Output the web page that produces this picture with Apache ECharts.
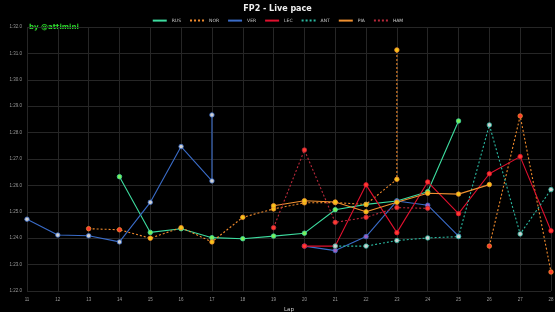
<!DOCTYPE html>
<html>
<head>
<meta charset="utf-8">
<script src="https://cdn.jsdelivr.net/npm/echarts@6/dist/echarts.min.js"></script>
<style>
  html, body { margin: 0; padding: 0; background: #000; }
  #main { width: 555px; height: 312px; }
</style>
</head>
<body>
<div id="main"></div>
<script>
// lap times in seconds (1:24.0 = 84.0), null = break in the line
var rusLaps  = [14, 15, 16, 17, 18, 19, 20, 21, 22, 23, 24, 25];
var rusTimes = [86.33, 84.22, 84.36, 84.02, 83.98, 84.08, 84.19, 85.08, 85.28, 85.41, 85.76, 88.44];
var rusTyres = ['G','G','G','G','G','G','G','G','G','G','G','G'];

var norLaps  = [13, 14, 15, 16, 17, 18, 19, 20, 21, 22, 23, 23, 24, 26, 27, 28];
var norTimes = [84.36, 84.32, 84.00, 84.40, 83.86, 84.79, 85.11, 85.34, 85.35, 85.28, 86.23, 91.13, null, 83.70, 88.63, 82.72];
var norTyres = ['S','S','M','M','M','M','M','M','M','M','M','M', null,'S','S','S'];

var verLaps  = [11, 12, 13, 14, 15, 16, 17, 17, 18, 20, 21, 22, 23, 24, 25];
var verTimes = [84.72, 84.12, 84.09, 83.86, 85.36, 87.47, 86.17, 88.67, null, 83.70, 83.53, 84.06, 85.41, 85.25, 84.08];
var verTyres = ['H','H','H','H','H','H','H','H', null,'P','P','P','P','P','P'];

var lecLaps  = [20, 21, 22, 23, 24, 25, 26, 27, 28];
var lecTimes = [83.70, 83.70, 86.02, 84.21, 86.13, 84.93, 86.44, 87.09, 84.28];
var lecTyres = ['S','S','S','S','S','S','S','S','S'];

var antLaps  = [21, 22, 23, 24, 25, 26, 27, 28];
var antTimes = [83.70, 83.70, 83.91, 84.01, 84.06, 88.29, 84.16, 85.84];
var antTyres = ['H','H','H','H','H','H','H','H'];

var piaLaps  = [19, 20, 21, 22, 23, 24, 25, 26];
var piaTimes = [85.23, 85.42, 85.37, 85.00, 85.36, 85.70, 85.67, 86.03];
var piaTyres = ['M','M','M','M','M','M','M','M'];

var hamLaps  = [19, 20, 21, 22, 23, 24];
var hamTimes = [84.40, 87.34, 84.60, 84.79, 85.16, 85.13];
var hamTyres = ['S','S','S','S','S','S'];

var markerColors = { S: '#ff3b30', M: '#f5c518', H: '#d0d0d0', G: '#7bf05a', P: '#a060c0' };

function pts(laps, times, tyres) {
    return laps.map(function (lap, i) {
        if (times[i] === null) return [lap, '-'];
        return { value: [lap, times[i]], itemStyle: { color: markerColors[tyres[i]] } };
    });
}

function makeSeries(name, color, dashed, laps, times, tyres) {
    return {
        name: name,
        type: 'line',
        data: pts(laps, times, tyres),
        connectNulls: false,
        symbol: 'circle',
        symbolSize: 4.5,
        lineStyle: { color: color, width: 1.1, type: dashed ? [2, 2] : 'solid' },
        itemStyle: { borderColor: color, borderWidth: 0.8 },
        emphasis: { disabled: true },
        animation: false
    };
}

var myChart = echarts.init(document.getElementById('main'));

var option = {
    backgroundColor: '#000',
    title: {
        text: 'FP2 - Live pace',
        left: 'center',
        top: 0,
        textStyle: { color: '#eee', fontSize: 8, fontWeight: 'bold', fontFamily: 'DejaVu Sans' }
    },
    graphic: [{
        type: 'text',
        left: 29,
        top: 24,
        style: { text: 'by @attimini', fill: '#2ee02e', fontSize: 7, fontWeight: 'bold', fontFamily: 'DejaVu Sans' }
    }],
    legend: {
        top: 13,
        left: 'center',
        itemWidth: 14,
        itemHeight: 4,
        itemGap: 8,
        textStyle: { color: '#ccc', fontSize: 4.5, fontFamily: 'DejaVu Sans' },
        itemStyle: { opacity: 0 },
        data: ['RUS', 'NOR', 'VER', 'LEC', 'ANT', 'PIA', 'HAM']
    },
    grid: { left: 27, right: 4, top: 27, bottom: 21, containLabel: false, outerBoundsMode: 'none' },
    xAxis: {
        type: 'value',
        min: 11,
        max: 28,
        interval: 1,
        name: 'Lap',
        nameLocation: 'middle',
        nameGap: 12,
        nameTextStyle: { color: '#ccc', fontSize: 5.5, fontFamily: 'DejaVu Sans' },
        axisLine: { show: false },
        axisTick: { show: false },
        axisLabel: { color: '#999', fontSize: 4.5, margin: 6 },
        splitLine: { lineStyle: { color: '#262626', width: 1 } }
    },
    yAxis: {
        type: 'value',
        min: 82,
        max: 92,
        interval: 1,
        name: 'Time',
        nameLocation: 'middle',
        nameGap: 20,
        nameTextStyle: { color: '#ccc', fontSize: 5.5, fontFamily: 'DejaVu Sans' },
        axisLine: { show: false },
        axisTick: { show: false },
        axisLabel: {
            color: '#999',
            fontSize: 4.5,
            margin: 5,
            formatter: function (v) { return '1:' + (v - 60).toFixed(1); }
        },
        splitLine: { lineStyle: { color: '#262626', width: 1 } }
    },
    series: [
        makeSeries('RUS', '#3ddc9f', false, rusLaps, rusTimes, rusTyres),
        makeSeries('NOR', '#f08a2c', true, norLaps, norTimes, norTyres),
        makeSeries('VER', '#3a6cc8', false, verLaps, verTimes, verTyres),
        makeSeries('LEC', '#e0102e', false, lecLaps, lecTimes, lecTyres),
        makeSeries('ANT', '#2ab8a0', true, antLaps, antTimes, antTyres),
        makeSeries('PIA', '#f09030', false, piaLaps, piaTimes, piaTyres),
        makeSeries('HAM', '#b8283a', true, hamLaps, hamTimes, hamTyres)
    ]
};
myChart.setOption(option, true);
</script>
</body>
</html>
